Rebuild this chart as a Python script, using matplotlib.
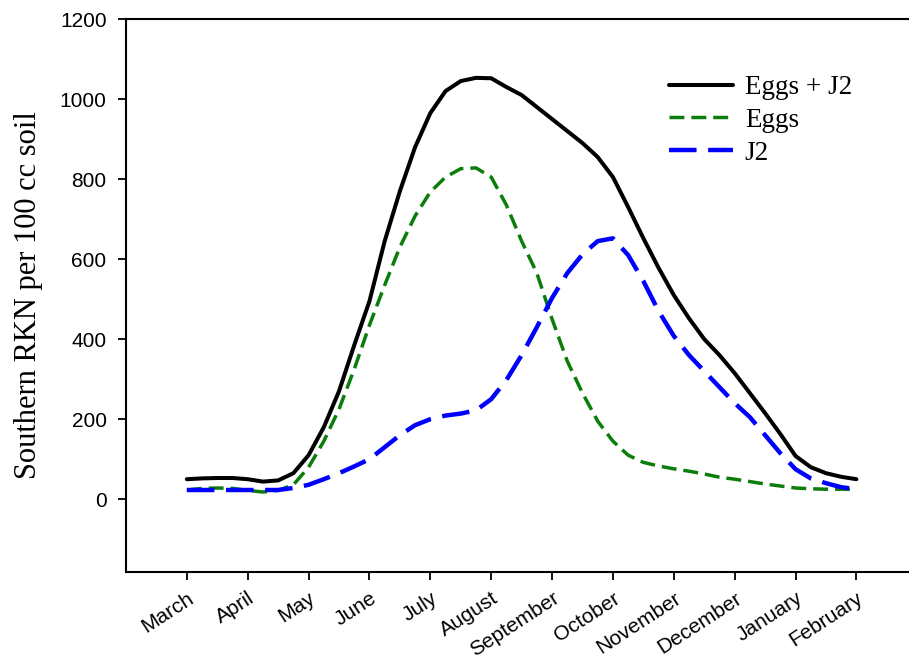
"""Seasonal Southern RKN population in soil (eggs, J2 and total)."""

import matplotlib
matplotlib.use("Agg")
import matplotlib.pyplot as plt

months = ["March", "April", "May", "June", "July", "August", "September",
          "October", "November", "December", "January", "February"]

# readings every quarter month, starting at March
sample_pos = [i * 0.25 for i in range(45)]
eggs_j2 = [50, 52, 53, 53, 50, 44, 47, 65, 110, 180, 270, 385, 495, 645, 770,
           880, 965, 1020, 1045, 1053, 1052, 1030, 1010, 980, 950, 920, 890,
           855, 805, 730, 652, 578, 510, 452, 400, 360, 315, 265, 215, 163,
           108, 80, 65, 56, 50]
eggs = [23, 27, 28, 27, 22, 18, 22, 36, 80, 145, 225, 325, 435, 535, 630,
        708, 768, 805, 826, 828, 805, 735, 645, 565, 450, 345, 265, 195, 145,
        110, 92, 83, 76, 70, 63, 55, 50, 44, 38, 33, 28, 26, 25, 25, 25]
j2 = [23, 23, 23, 23, 23, 23, 23, 28, 36, 50, 65, 82, 100, 130, 160, 185,
      200, 209, 214, 222, 250, 298, 360, 430, 503, 565, 612, 645, 652, 610,
      545, 470, 408, 360, 320, 280, 240, 205, 160, 115, 75, 52, 40, 30, 25]

serif = "Liberation Serif"
sans = "Liberation Sans"

fig = plt.figure(figsize=(9.09, 6.61), dpi=100)
ax = fig.add_axes([0.1386, 0.1346, 0.904, 0.8366])

ax.plot(sample_pos, eggs_j2, color="black", lw=2.9, label="Eggs + J2",
        solid_joinstyle="round", solid_capstyle="round")
ax.plot(sample_pos, eggs, color="#0a7d0a", lw=2.5, dashes=(4.3, 2.0),
        label="Eggs", dash_joinstyle="round")
ax.plot(sample_pos, j2, color="#0000ff", lw=3.2, dashes=(6.2, 2.6),
        label="J2", dash_joinstyle="round")

ax.set_xlim(-1, 12.5)
ax.set_ylim(-182, 1200)
ax.set_xticks(range(len(months)))
ax.set_xticklabels(months, rotation=33, ha="right", va="top",
                   rotation_mode="anchor", fontsize=15, family=sans)
ax.set_yticks(range(0, 1201, 200))
ax.set_yticklabels([str(v) for v in range(0, 1201, 200)],
                   fontsize=15, family=sans)
ax.tick_params(direction="out", length=6, width=1.3)
ax.tick_params(axis="y", pad=8)
ax.tick_params(axis="x", pad=6)
for side in ["left", "bottom", "top"]:
    ax.spines[side].set_linewidth(1.5)
ax.spines["right"].set_visible(False)

ax.set_ylabel("Southern RKN per 100 cc soil", family=serif, fontsize=22,
              labelpad=12)

ax.legend(loc="upper left", bbox_to_anchor=(669 / 909, 0.886),
          bbox_transform=fig.transFigure, frameon=False, borderpad=0,
          borderaxespad=0, handlelength=2.35, handletextpad=0.45,
          labelspacing=0.28, prop={"family": serif, "size": 19.5})

plt.savefig("out.png", dpi=100)
plt.close()
